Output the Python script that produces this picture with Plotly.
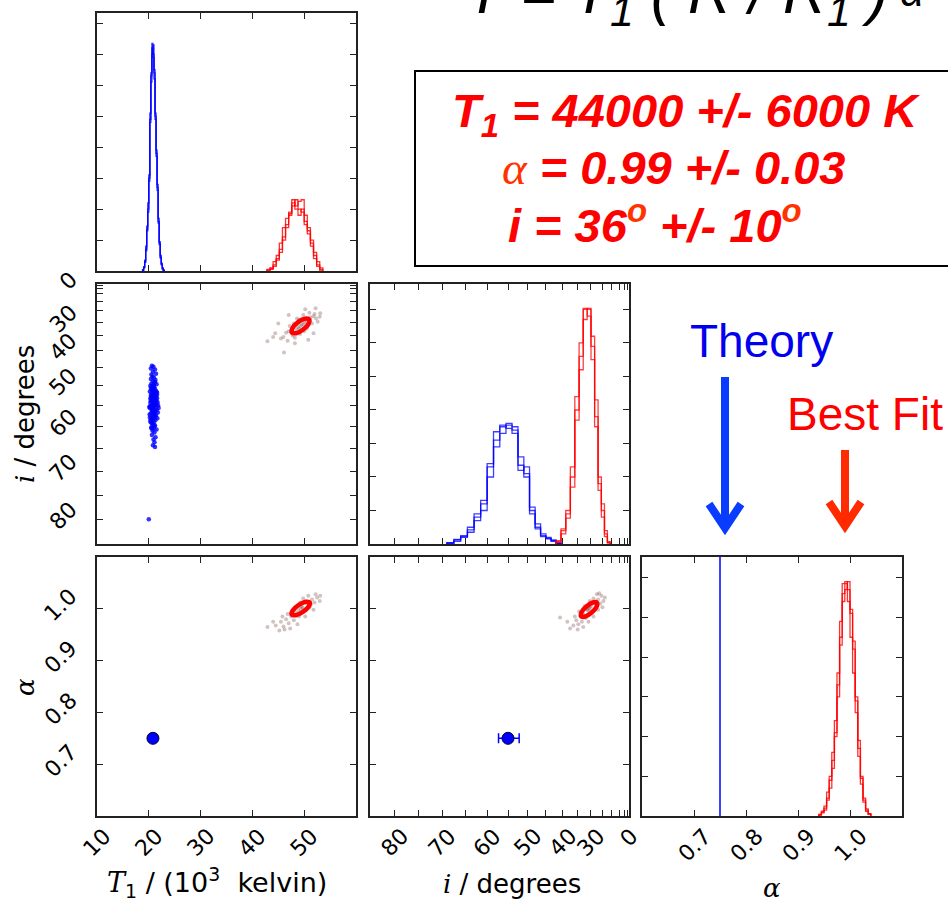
import numpy as np
import plotly.graph_objects as go

W, H = 948, 902

# ---------------- data ----------------
# Theory point
theory_T1 = 20.8          # 10^3 K
theory_i = 55.0           # degrees
theory_i_lo, theory_i_hi = 52.2, 57.3
theory_alpha = 0.75

# T1 posterior histograms (10^3 K): bin start, width, heights (3 chains)
t1_blue_start, t1_blue_width = 18.8, 0.2
t1_blue_a = [0.03, 0.12, 0.3, 0.7, 1.3, 2.0, 3.0, 4.9, 6.3, 7.35, 7.0, 6.2, 5.0, 3.8, 2.7, 1.6, 0.9, 0.45, 0.2, 0.08, 0.02]
t1_blue_b = [0.02, 0.1, 0.35, 0.8, 1.45, 2.2, 2.9, 5.1, 6.1, 7.0, 7.3, 6.4, 4.9, 3.7, 2.6, 1.7, 0.95, 0.5, 0.22, 0.1, 0.03]
t1_blue_c = [0.04, 0.14, 0.28, 0.65, 1.35, 1.9, 3.1, 4.8, 6.4, 7.2, 6.9, 6.5, 5.1, 3.9, 2.8, 1.55, 0.85, 0.42, 0.25, 0.06, 0.02]
t1_red_start, t1_red_width = 42.8, 0.6
t1_red_a = [0.05, 0.1, 0.3, 0.5, 0.9, 1.4, 1.7, 1.9, 2.1, 2.3, 2.0, 1.9, 1.6, 1.4, 1.0, 0.6, 0.3, 0.1]
t1_red_b = [0.03, 0.08, 0.2, 0.4, 0.7, 1.1, 1.5, 1.8, 2.2, 2.1, 2.25, 2.3, 1.8, 1.3, 0.9, 0.5, 0.2, 0.05]
t1_red_c = [0.0, 0.05, 0.15, 0.35, 0.6, 1.0, 1.4, 1.85, 2.3, 2.0, 1.8, 2.0, 1.5, 1.2, 0.8, 0.4, 0.15, 0.0]

# inclination posterior histograms (degrees)
i_blue_start, i_blue_width = 40.5, 1.5
i_blue_a = [0.02, 0.1, 0.17, 0.22, 0.5, 1.0, 2.1, 2.35, 3.5, 3.55, 3.5, 3.1, 2.4, 1.2, 0.8, 0.42, 0.22, 0.12, 0.03]
i_blue_b = [0.03, 0.08, 0.2, 0.3, 0.6, 0.9, 2.0, 2.6, 3.3, 3.45, 3.55, 3.35, 2.0, 1.0, 0.7, 0.35, 0.2, 0.08, 0.02]
i_blue_c = [0.01, 0.12, 0.15, 0.25, 0.45, 1.1, 2.3, 2.2, 3.4, 3.6, 3.3, 2.9, 2.3, 1.3, 0.9, 0.5, 0.25, 0.14, 0.04]
i_red_start, i_red_width = 21.0, 1.5
i_red_a = [0.05, 0.3, 1.0, 1.8, 3.8, 5.9, 7.0, 7.0, 5.6, 4.0, 2.3, 0.9, 0.4, 0.07]
i_red_b = [0.03, 0.22, 0.8, 1.6, 4.3, 6.2, 6.8, 7.03, 5.2, 4.4, 2.0, 0.77, 0.3, 0.05]
i_red_c = [0.07, 0.4, 1.2, 2.0, 3.5, 5.5, 7.03, 6.7, 6.0, 3.7, 1.7, 1.0, 0.45, 0.1]

# alpha posterior histograms
a_red_start, a_red_width = 0.940, 0.005
a_red_a = [0.03, 0.1, 0.2, 0.45, 0.9, 1.4, 2.1, 3.3, 4.5, 5.85, 5.9, 5.7, 5.1, 4.2, 2.9, 1.7, 0.95, 0.4, 0.15, 0.05]
a_red_b = [0.02, 0.08, 0.25, 0.6, 0.7, 1.2, 2.4, 3.0, 4.9, 5.6, 5.85, 5.4, 4.5, 3.6, 2.6, 1.9, 0.8, 0.35, 0.12, 0.04]
a_red_c = [0.04, 0.12, 0.15, 0.4, 1.0, 1.6, 2.0, 3.6, 4.3, 5.4, 5.7, 5.9, 5.2, 4.4, 3.0, 1.5, 1.0, 0.45, 0.18, 0.06]

# blue (theory-model) samples: T1 (10^3 K), i (deg)
blue_T1 = [20.6, 20.9, 20.4, 21.2, 20.8, 21.4, 20.5,
           20.7, 21.0, 20.4, 21.3, 20.8, 21.1, 20.5, 20.9, 21.5, 20.3,
           20.7, 21.0, 21.2, 20.5, 20.9, 21.4, 20.6, 21.1, 20.8, 20.4, 21.3, 21.0, 20.7, 21.6,
           20.5, 20.9, 21.2, 20.6, 21.0, 20.3, 21.4, 20.8, 21.1, 20.5, 20.9, 21.3, 20.7, 21.0, 21.8, 20.2,
           20.6, 21.2, 20.8, 20.4, 21.0, 21.4, 20.7, 21.1, 20.5, 20.9, 21.3, 20.6,
           21.0, 20.8, 21.2, 20.5, 20.9, 21.5, 20.7, 21.1,
           20.6, 21.3, 20.9, 21.1, 20.8, 21.2,
           20.75, 21.05, 20.85, 20.95, 20.65, 21.15, 20.9, 21.0, 20.8, 20.95,
           20.45, 21.35, 20.55, 21.25, 20.35, 21.45, 20.6, 21.2, 20.7, 21.1,
           20.2, 21.6, 20.3, 21.7, 20.25, 21.55, 20.15, 21.65, 20.35, 21.5,
           20.4, 21.45, 20.1, 21.75, 20.3, 21.6, 20.5, 21.4, 20.2, 21.9,
           20.0]
blue_i = [44.5, 44.8, 45.3, 45.6, 46.2, 46.8, 47.0,
          47.5, 47.8, 48.2, 48.5, 48.8, 49.2, 49.5, 49.8, 49.6, 50.0,
          50.3, 50.5, 50.8, 51.0, 51.2, 51.5, 51.7, 51.9, 52.2, 52.4, 52.6, 52.8, 53.0, 53.2,
          53.4, 53.6, 53.8, 54.0, 54.2, 54.4, 54.5, 54.7, 54.9, 55.1, 55.3, 55.5, 55.7, 55.9, 55.0, 55.6,
          56.2, 56.4, 56.6, 56.9, 57.1, 57.3, 57.5, 57.8, 58.0, 58.3, 58.5, 58.8,
          59.1, 59.5, 59.8, 60.2, 60.5, 60.7, 61.0, 61.4,
          62.0, 62.5, 63.0, 63.6, 64.3, 64.7,
          51.0, 52.0, 53.0, 54.5, 55.5, 56.5, 57.0, 50.0, 58.0, 53.5,
          52.7, 54.1, 55.8, 57.6, 53.9, 51.4, 59.3, 49.0, 56.0, 60.0,
          51.5, 52.3, 53.3, 54.2, 55.2, 56.1, 57.2, 58.1, 59.0, 54.8,
          50.6, 53.7, 55.4, 56.7, 58.6, 51.8, 60.4, 52.9, 57.9, 55.6,
          80.0]

# best-fit samples (faint cloud), T1 vs i
cloud_a_T1 = [42.9, 46.1, 50.2, 52.2, 53.1, 45.0, 44.4, 47.0, 51.8, 50.8, 48.2,
              47.0, 47.8, 48.5, 49.0, 49.5, 50.0, 50.5, 51.2, 51.8, 52.3, 46.5, 46.0,
              48.0, 49.0, 50.5, 51.5, 52.0, 49.8, 48.2, 47.2, 45.5, 44.0, 53.0, 50.0,
              49.2, 51.0, 48.6, 46.8, 50.8, 52.6, 49.3, 48.8, 49.9]
cloud_a_i = [37.0, 40.6, 24.3, 23.8, 26.2, 30.5, 34.2, 27.0, 34.2, 36.5, 37.6,
             33.5, 35.0, 33.0, 32.5, 31.0, 30.0, 29.5, 28.0, 27.5, 28.5, 34.0, 35.5,
             30.5, 29.0, 32.5, 30.5, 26.5, 27.0, 35.8, 31.5, 36.0, 35.5, 27.8, 33.5,
             34.5, 26.0, 28.5, 36.8, 31.3, 29.8, 31.5, 32.0, 30.8]
# T1 vs alpha
cloud_b_T1 = [42.9, 44.5, 45.5, 46.0, 46.5, 47.0, 47.5, 48.0, 48.5, 49.0, 49.5, 50.0,
              50.5, 51.0, 51.5, 52.0, 52.5, 53.0, 52.2, 50.8, 49.2, 48.0, 46.8, 45.8,
              44.0, 47.3, 48.7, 50.2, 51.8, 53.1, 45.2, 46.2, 49.8, 47.8, 51.3, 49.3, 48.9, 49.7]
cloud_b_a = [0.965, 0.968, 0.975, 0.966, 0.980, 0.972, 0.985, 0.978, 0.992, 0.985, 1.004, 0.996,
             1.010, 1.003, 1.018, 1.012, 1.022, 1.015, 1.028, 1.025, 1.012, 0.998, 0.990, 0.985,
             0.975, 0.962, 0.970, 0.985, 0.998, 1.025, 0.958, 0.960, 1.020, 0.995, 1.008, 1.000, 0.997, 1.002]
# i vs alpha
cloud_c_i = [40.8, 37.6, 36.5, 38.5, 35.5, 34.8, 34.0, 33.5, 33.0, 32.0, 31.5, 31.0,
             30.0, 29.5, 28.5, 28.0, 27.0, 26.0, 25.5, 24.5, 23.8, 27.5, 29.0, 30.5,
             32.5, 34.5, 36.0, 35.0, 33.0, 31.0, 29.0, 27.0, 25.0, 26.5, 30.8, 31.2, 30.4]
cloud_c_a = [0.983, 0.962, 0.968, 0.975, 0.978, 0.970, 0.985, 0.975, 0.990, 0.982, 0.998, 0.990,
             1.005, 0.995, 1.012, 1.003, 1.018, 1.010, 1.025, 1.015, 1.022, 1.028, 1.020, 1.015,
             1.005, 0.995, 0.985, 0.960, 0.965, 0.975, 0.985, 0.998, 1.003, 1.030, 1.000, 0.997, 1.002]

# 1-sigma contour vertices of the best fit
ell_a_T1 = [50.96, 50.85, 49.81, 48.47, 47.61, 47.72, 48.76, 50.10]
ell_a_i = [28.86, 30.65, 32.86, 34.17, 33.95, 32.34, 30.09, 28.61]
ell_b_T1 = [51.08, 50.87, 49.75, 48.38, 47.57, 47.78, 48.90, 50.27]
ell_b_a = [1.0123, 1.0044, 0.9942, 0.9877, 0.9888, 0.9967, 1.0069, 1.0135]
ell_c_i = [27.50, 27.67, 29.74, 32.20, 33.76, 33.62, 31.79, 29.29]
ell_c_a = [1.0119, 1.0038, 0.9929, 0.9852, 0.9854, 0.9935, 1.0044, 1.0121]

# axis ticks
t1_ticks = [10, 20, 30, 40, 50]
t1_labels = ['10', '20', '30', '40', '50']
t1_minor = [60]
i_label_deg = [0, 30, 40, 50, 60, 70, 80]
i_label_txt = ['0', '30', '40', '50', '60', '70', '80']
i_minor_deg = [5, 10, 15, 20, 25, 35, 45, 55, 65, 75, 85]
a_ticks = [0.7, 0.8, 0.9, 1.0]
a_labels = ['0.7', '0.8', '0.9', '1.0']

# ---------------- helpers ----------------
def cosi(deg):
    return np.cos(np.radians(np.asarray(deg, dtype=float)))

def edges_of(start, width, n):
    return start + width * np.arange(n + 1)

def step_xy(edges, heights):
    xs = [edges[0]]
    ys = [0.0]
    for k, h in enumerate(heights):
        xs.append(edges[k])
        ys.append(h)
    xs.append(edges[-1])
    ys.append(0.0)
    return xs, ys

def step_cos(start, width, heights):
    e = cosi(edges_of(start, width, len(heights)))[::-1]
    return step_xy(list(e), list(heights)[::-1])

def px(x):
    return x / W

def py(y):
    return 1 - y / H

BLUE = '#0000ff'
RED = '#ff0000'
CLOUD = 'rgba(120,70,70,0.33)'

fig = go.Figure()

# P1: T1 histogram
for hts in (t1_blue_a, t1_blue_b, t1_blue_c):
    xs, ys = step_xy(list(edges_of(t1_blue_start, t1_blue_width, len(hts))), hts)
    fig.add_trace(go.Scatter(x=xs, y=ys, mode='lines', line=dict(color=BLUE, width=1.3, shape='hv'),
                             opacity=0.8, xaxis='x', yaxis='y', showlegend=False))
for hts in (t1_red_a, t1_red_b, t1_red_c):
    xs, ys = step_xy(list(edges_of(t1_red_start, t1_red_width, len(hts))), hts)
    fig.add_trace(go.Scatter(x=xs, y=ys, mode='lines', line=dict(color=RED, width=1.3, shape='hv'),
                             opacity=0.8, xaxis='x', yaxis='y', showlegend=False))

# P2: T1 vs i
fig.add_trace(go.Scatter(x=cloud_a_T1, y=cosi(cloud_a_i), mode='markers',
                         marker=dict(color=CLOUD, size=4), xaxis='x2', yaxis='y2', showlegend=False))
fig.add_trace(go.Scatter(x=ell_a_T1 + ell_a_T1[:1], y=cosi(ell_a_i + ell_a_i[:1]), mode='lines',
                         line=dict(color=RED, width=4.5, shape='spline'), xaxis='x2', yaxis='y2', showlegend=False))
fig.add_trace(go.Scatter(x=blue_T1, y=cosi(blue_i), mode='markers',
                         marker=dict(color=BLUE, size=4.5, opacity=0.8), xaxis='x2', yaxis='y2', showlegend=False))

# P3: i histogram
for hts in (i_blue_a, i_blue_b, i_blue_c):
    xs, ys = step_cos(i_blue_start, i_blue_width, hts)
    fig.add_trace(go.Scatter(x=xs, y=ys, mode='lines', line=dict(color=BLUE, width=1.3, shape='hv'),
                             opacity=0.75, xaxis='x3', yaxis='y3', showlegend=False))
for hts in (i_red_a, i_red_b, i_red_c):
    xs, ys = step_cos(i_red_start, i_red_width, hts)
    fig.add_trace(go.Scatter(x=xs, y=ys, mode='lines', line=dict(color=RED, width=1.3, shape='hv'),
                             opacity=0.75, xaxis='x3', yaxis='y3', showlegend=False))

# P4: T1 vs alpha
fig.add_trace(go.Scatter(x=cloud_b_T1, y=cloud_b_a, mode='markers',
                         marker=dict(color=CLOUD, size=4), xaxis='x4', yaxis='y4', showlegend=False))
fig.add_trace(go.Scatter(x=ell_b_T1 + ell_b_T1[:1], y=ell_b_a + ell_b_a[:1], mode='lines',
                         line=dict(color=RED, width=4.5, shape='spline'), xaxis='x4', yaxis='y4', showlegend=False))
fig.add_trace(go.Scatter(x=[theory_T1], y=[theory_alpha], mode='markers',
                         marker=dict(color=BLUE, size=12, line=dict(color='#000033', width=1)),
                         xaxis='x4', yaxis='y4', showlegend=False))

# P5: i vs alpha
fig.add_trace(go.Scatter(x=cosi(cloud_c_i), y=cloud_c_a, mode='markers',
                         marker=dict(color=CLOUD, size=4), xaxis='x5', yaxis='y5', showlegend=False))
fig.add_trace(go.Scatter(x=cosi(ell_c_i + ell_c_i[:1]), y=ell_c_a + ell_c_a[:1], mode='lines',
                         line=dict(color=RED, width=4.5, shape='spline'), xaxis='x5', yaxis='y5', showlegend=False))
c0 = float(cosi(theory_i))
fig.add_trace(go.Scatter(x=[c0], y=[theory_alpha], mode='markers',
                         marker=dict(color=BLUE, size=12, line=dict(color='#000033', width=1)),
                         error_x=dict(type='data', symmetric=False,
                                      array=[float(cosi(theory_i_lo)) - c0],
                                      arrayminus=[c0 - float(cosi(theory_i_hi))],
                                      color=BLUE, thickness=1.5, width=5),
                         xaxis='x5', yaxis='y5', showlegend=False))

# P6: alpha histogram
for hts in (a_red_a, a_red_b, a_red_c):
    xs, ys = step_xy(list(edges_of(a_red_start, a_red_width, len(hts))), hts)
    fig.add_trace(go.Scatter(x=xs, y=ys, mode='lines', line=dict(color=RED, width=1.3, shape='hv'),
                             opacity=0.8, xaxis='x6', yaxis='y6', showlegend=False))
fig.add_trace(go.Scatter(x=[theory_alpha, theory_alpha], y=[0, 6.52], mode='lines',
                         line=dict(color=BLUE, width=1.5), xaxis='x6', yaxis='y6', showlegend=False))

# ---------------- axes ----------------
cols = [(97, 356), (370, 629), (642, 902)]
rows = [(13, 271), (284, 544), (557, 816)]
def xdom(c):
    return [px(cols[c][0]), px(cols[c][1])]
def ydom(r):
    return [py(rows[r][1]), py(rows[r][0])]

tickfont = dict(family='DejaVu Sans', size=22, color='black')
minor_style = dict(ticks='inside', ticklen=6, tickwidth=1.3, tickcolor='#222222', showgrid=False)
base = dict(showline=True, linecolor='#222222', linewidth=1.5, mirror='ticks', ticks='inside',
            ticklen=6, tickwidth=1.3, tickcolor='#222222', showgrid=False, zeroline=False,
            showticklabels=False, fixedrange=True, automargin=False)
cos_range = [float(cosi(85)), 1.0]
cos_major = [float(v) for v in cosi(i_label_deg)]

def t1_axis(dom, anchor):
    return dict(base, domain=dom, anchor=anchor, range=[10, 60], tickmode='array', tickvals=t1_ticks,
                minor=dict(minor_style, tickmode='array', tickvals=t1_minor))
def cos_axis(dom, anchor):
    return dict(base, domain=dom, anchor=anchor, range=cos_range, tickmode='array', tickvals=cos_major,
                minor=dict(minor_style, tickmode='array', tickvals=[float(v) for v in cosi(i_minor_deg)]))
def a_axis(dom, anchor):
    return dict(base, domain=dom, anchor=anchor, range=[0.6, 1.1], tickmode='array', tickvals=a_ticks)
def h_axis(dom, anchor, top):
    return dict(base, domain=dom, anchor=anchor, range=[0, top], tickmode='linear', tick0=0, dtick=1)

fig.update_layout(
    template='none',
    xaxis=t1_axis(xdom(0), 'y'), yaxis=h_axis(ydom(0), 'x', 8.33),
    xaxis2=t1_axis(xdom(0), 'y2'), yaxis2=cos_axis(ydom(1), 'x2'),
    xaxis3=cos_axis(xdom(1), 'y3'), yaxis3=h_axis(ydom(1), 'x3', 7.76),
    xaxis4=t1_axis(xdom(0), 'y4'), yaxis4=a_axis(ydom(2), 'x4'),
    xaxis5=cos_axis(xdom(1), 'y5'), yaxis5=a_axis(ydom(2), 'x5'),
    xaxis6=a_axis(xdom(2), 'y6'), yaxis6=h_axis(ydom(2), 'x6', 6.52),
)

# ---------------- text & decorations ----------------
ann = []
def text(x, y, s, size, color='black', family='Liberation Sans', angle=0, xanchor='center', yanchor='middle'):
    ann.append(dict(x=px(x), y=py(y), xref='paper', yref='paper', text=s, showarrow=False,
                    font=dict(family=family, size=size, color=color), textangle=angle,
                    xanchor=xanchor, yanchor=yanchor))

# rotated tick labels, positioned on the axes' own data coordinates
def xlabels(xref, vals, texts):
    for v, t in zip(vals, texts):
        ann.append(dict(x=v, xref=xref, y=py(821), yref='paper', text=t, showarrow=False,
                        textangle=-45, xanchor='center', yanchor='top', font=tickfont))

def ylabels(yref, vals, texts):
    for v, t in zip(vals, texts):
        ann.append(dict(x=px(85), xref='paper', y=v, yref=yref, yshift=4, text=t, showarrow=False,
                        textangle=-45, xanchor='right', yanchor='middle', font=tickfont))

xlabels('x4', t1_ticks, t1_labels)
xlabels('x5', cos_major, i_label_txt)
xlabels('x6', a_ticks, a_labels)
ylabels('y2', cos_major, i_label_txt)
ylabels('y4', a_ticks, a_labels)

serif_i = "<span style='font-family:DejaVu Serif'><i>i</i></span>"
serif_a = "<span style='font-family:DejaVu Serif'><i>α</i></span>"
serif_T = "<span style='font-family:DejaVu Serif'><i>T</i></span>"

text(25, 414, serif_i + " / degrees", 26, family='DejaVu Sans', angle=-90)
text(25, 687, serif_a, 26, family='DejaVu Sans', angle=-90)
text(217, 882, serif_T + "<sub>1</sub> / (10<sup>3</sup>  kelvin)", 27, family='DejaVu Sans')
text(512, 884, serif_i + " / degrees", 26, family='DejaVu Sans')
text(772, 888, serif_a, 26, family='DejaVu Sans')

# formula title (cut at the top edge)
text(464, 37, "<i>T = T<sub>1</sub> ( R / R<sub>1</sub> )</i>", 61,
     xanchor='left', yanchor='bottom')
text(884, 17, "<i>-α</i>", 42, xanchor='left', yanchor='bottom')

# results box
text(686, 114, "<b><i>T<sub>1</sub> = 44000 +/- 6000 K</i></b>", 47, color=RED)
text(673, 167, "<span style='font-family:Liberation Serif;color:#ff3300'><i>α</i></span>"
     "<b><i> = 0.99 +/- 0.03</i></b>", 47, color=RED)
text(655, 222, "<b><i>i = 36<sup><span style='color:#ff3300'>o</span></sup> +/- 10"
     "<sup><span style='color:#ff3300'>o</span></sup></i></b>", 47, color=RED)

text(761, 341, "Theory", 46, color='#0000ee')
text(865, 414, "Best Fit", 46, color=RED)

fig.update_layout(annotations=ann)

shapes = [
    dict(type='rect', xref='paper', yref='paper', x0=px(415), x1=px(960), y0=py(266), y1=py(71),
         line=dict(color='black', width=2)),
    dict(type='line', xref='paper', yref='paper', x0=px(725), x1=px(725), y0=py(377), y1=py(527),
         line=dict(color='#0a3cff', width=8)),
    dict(type='path', xref='paper', yref='paper',
         path=f"M{px(709)},{py(504)} L{px(725)},{py(528)} L{px(741)},{py(504)}",
         line=dict(color='#0a3cff', width=8)),
    dict(type='line', xref='paper', yref='paper', x0=px(845), x1=px(845), y0=py(450), y1=py(526),
         line=dict(color='#ff2a00', width=8)),
    dict(type='path', xref='paper', yref='paper',
         path=f"M{px(829)},{py(502)} L{px(845)},{py(526)} L{px(861)},{py(502)}",
         line=dict(color='#ff2a00', width=8)),
]
fig.update_layout(shapes=shapes)

fig.update_layout(width=W, height=H, margin=dict(l=0, r=0, t=0, b=0, autoexpand=False),
                  paper_bgcolor='white', plot_bgcolor='white', showlegend=False)

fig.write_html("out.html", config={'displayModeBar': False},
               post_script="document.body.style.margin='0px';document.body.style.overflow='hidden';")
